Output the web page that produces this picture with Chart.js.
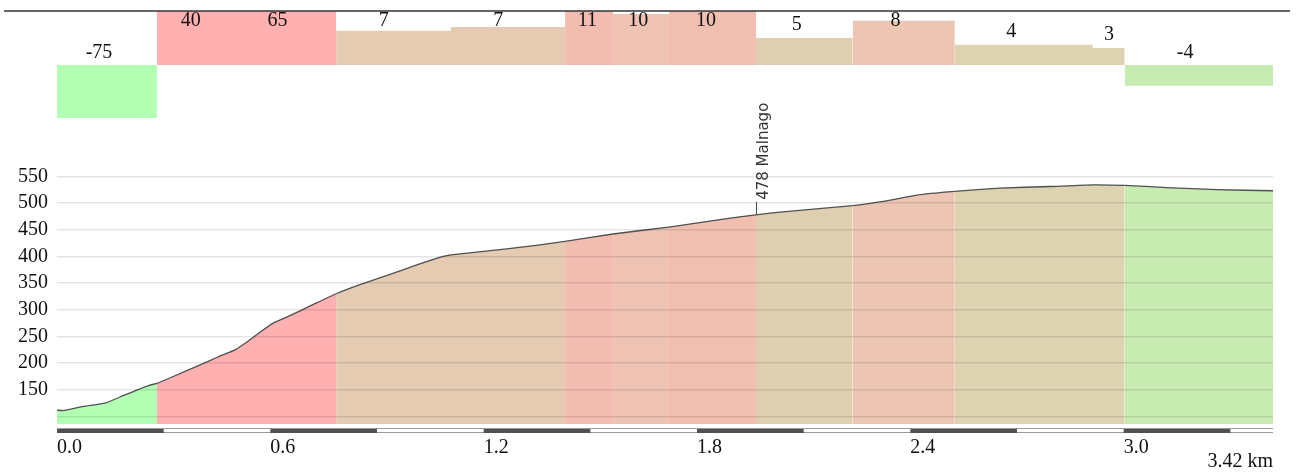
<!DOCTYPE html>
<html>
<head>
<meta charset="utf-8">
<title>Profilo altimetrico</title>
<script src="https://cdn.jsdelivr.net/npm/chart.js@4.4.1/dist/chart.umd.min.js"></script>
<style>
  body { margin: 0; background: #fff; }
  #wrap { position: relative; width: 1298px; height: 474px; }
  #wrap canvas { position: absolute; left: 0; top: 0; }
</style>
</head>
<body>
<div id="wrap">
  <canvas id="perfilChart" width="1298" height="474"></canvas>
  <canvas id="pendenzeChart" width="1298" height="130"></canvas>
</div>
<script>
// Profile: distance (km) and elevation (m)
const profileKm = [0, 0.018, 0.074, 0.135, 0.186, 0.257, 0.281, 0.327, 0.393, 0.454, 0.501, 0.533,
    0.571, 0.608, 0.655, 0.721, 0.785, 0.852, 0.918, 1.012, 1.086, 1.108, 1.265, 1.429, 1.564,
    1.721, 1.874, 1.966, 2.033, 2.238, 2.324, 2.418, 2.525, 2.652, 2.792, 2.913, 3.003, 3.121,
    3.261, 3.42];
const profileElev = [112, 111, 119, 125, 139, 158, 162, 175, 194, 212, 225, 239,
    258, 275, 289, 310, 330, 347, 362, 384, 400, 403, 414, 428, 442,
    455, 470, 478, 483, 495, 503, 515, 522, 528, 531, 534, 533, 529,
    525, 523];

// Gradient segments (start km, label, value)
const segmentStart = [0, 0.281, 0.501, 0.785, 1.108, 1.429, 1.564, 1.721, 1.966, 2.238, 2.525, 2.913, 3.003];
const segmentLabels = ['-75', '40', '65', '7', '7', '11', '10', '10', '5', '8', '4', '3', '-4'];
const segmentValues = [-75, 40, 65, 6.6, 7.3, 11, 9.8, 10.6, 5.2, 8.5, 3.9, 3.3, -4];

const totalKm = 3.42;
const kmTicks = [0, 0.6, 1.2, 1.8, 2.4, 3.0];
const elevTicks = [100, 150, 200, 250, 300, 350, 400, 450, 500, 550];

const townName = 'Malnago';
const townKm = 1.966;
const townElev = 478;

// Styles
const segmentColors = ['#b3ffb3', '#ffb0b0', '#ffb0b0', '#e5cbb2', '#e5cbb2', '#f2bdb0', '#eec3b3',
    '#f0bfb0', '#dfcfb1', '#ecc6b3', '#ddd3b1', '#ddd3b1', '#c8ebb2'];
const serifFont = { family: '"Liberation Serif", "Times New Roman", serif', size: 20 };
const scaleBarStep = 0.3;

function segmentIndex(km) {
    let idx = 0;
    segmentStart.forEach((s, i) => { if (km >= s) idx = i; });
    return idx;
}

// Scale bar under the profile
const scaleBarPlugin = {
    id: 'scaleBar',
    afterDraw: (chart) => {
        const { ctx, chartArea, scales: { x } } = chart;
        const y0 = chartArea.bottom + 4;
        ctx.save();
        ctx.fillStyle = '#9a9a9a';
        ctx.fillRect(chartArea.left, y0, chartArea.width, 1);
        ctx.fillRect(chartArea.left, y0 + 4, chartArea.width, 1);
        ctx.fillStyle = '#505050';
        for (let km = 0; km < totalKm; km += 2 * scaleBarStep) {
            const a = x.getPixelForValue(km);
            const b = x.getPixelForValue(Math.min(km + scaleBarStep, totalKm));
            ctx.fillRect(a, y0 + 1, b - a, 4);
        }
        ctx.restore();
    }
};

// Town label
const townPlugin = {
    id: 'town',
    afterDraw: (chart) => {
        const { ctx, scales: { x, y } } = chart;
        const px = Math.round(x.getPixelForValue(townKm)) + 0.5;
        const py = y.getPixelForValue(townElev);
        ctx.save();
        ctx.strokeStyle = '#444';
        ctx.lineWidth = 1;
        ctx.beginPath();
        ctx.moveTo(px, py);
        ctx.lineTo(px, py - 13);
        ctx.stroke();
        ctx.translate(px, py - 15);
        ctx.rotate(-Math.PI / 2);
        ctx.font = '15px "DejaVu Sans", sans-serif';
        ctx.fillStyle = '#333';
        ctx.textAlign = 'left';
        ctx.textBaseline = 'middle';
        ctx.fillText(townElev + ' ' + townName, 0, 8);
        ctx.restore();
    }
};

// Gradient labels above bars
const gradientLabelsPlugin = {
    id: 'gradientLabels',
    afterDatasetsDraw: (chart) => {
        const { ctx, chartArea, scales: { x, y } } = chart;
        ctx.save();
        ctx.font = '20px "Liberation Serif", "Times New Roman", serif';
        ctx.fillStyle = '#111';
        ctx.textAlign = 'center';
        segmentLabels.forEach((text, i) => {
            const x0 = x.getPixelForValue(segmentStart[i]);
            const x1 = x.getPixelForValue(i + 1 < segmentStart.length ? segmentStart[i + 1] : totalKm);
            const v = segmentValues[i];
            let yText;
            if (v >= 0) {
                yText = Math.max(y.getPixelForValue(Math.min(v, y.max)) - 8, chartArea.top + 15);
            } else {
                yText = y.getPixelForValue(0) - 7;
            }
            ctx.fillText(text, (x0 + x1) / 2 - 0.12 * (x1 - x0) + 4, yText);
        });
        // top rule
        ctx.strokeStyle = '#333';
        ctx.lineWidth = 1.5;
        ctx.beginPath();
        ctx.moveTo(4, chartArea.top);
        ctx.lineTo(1290, chartArea.top);
        ctx.stroke();
        ctx.restore();
    }
};

document.addEventListener('DOMContentLoaded', function() {
    // Elevation profile
    const perfilChart = new Chart(document.getElementById('perfilChart'), {
        type: 'line',
        data: {
            datasets: [{
                data: profileKm.map((km, i) => ({ x: km, y: profileElev[i] })),
                borderColor: '#505050',
                borderWidth: 1.3,
                pointRadius: 0,
                tension: 0.15,
                fill: 'start',
                backgroundColor: segmentColors[0],
                segment: {
                    backgroundColor: ctx => segmentColors[segmentIndex(
                        (profileKm[ctx.p0DataIndex] + profileKm[ctx.p1DataIndex]) / 2)]
                }
            }]
        },
        options: {
            responsive: false,
            animation: false,
            layout: { padding: { top: 155, right: 25, left: 0, bottom: 0 } },
            plugins: {
                legend: { display: false },
                tooltip: { enabled: false }
            },
            scales: {
                x: {
                    type: 'linear',
                    min: 0,
                    max: totalKm,
                    afterBuildTicks: (scale) => { scale.ticks = kmTicks.map(v => ({ value: v })); },
                    afterFit: (scale) => { scale.height = 50; },
                    grid: { display: false, drawTicks: false },
                    border: { display: false },
                    ticks: {
                        align: 'start',
                        padding: 12,
                        maxRotation: 0,
                        autoSkip: false,
                        font: serifFont,
                        color: '#111',
                        callback: v => Number(v).toFixed(1)
                    },
                    title: {
                        display: true,
                        text: totalKm + ' km',
                        align: 'end',
                        font: serifFont,
                        color: '#111',
                        padding: 0
                    }
                },
                y: {
                    min: 86,
                    max: 590,
                    afterBuildTicks: (scale) => { scale.ticks = elevTicks.map(v => ({ value: v })); },
                    afterFit: (scale) => { scale.width = 57; },
                    grid: { color: 'rgba(0,0,0,0.1)', lineWidth: 1.5, drawTicks: false, z: 1 },
                    border: { display: false },
                    ticks: {
                        padding: 9,
                        font: serifFont,
                        color: '#111',
                        callback: v => v >= 150 ? v : ''
                    }
                }
            }
        },
        plugins: [scaleBarPlugin, townPlugin]
    });

    // Gradient bars
    const pendenzeChart = new Chart(document.getElementById('pendenzeChart'), {
        type: 'line',
        data: {
            datasets: [{
                data: segmentStart.map((km, i) => ({ x: km, y: segmentValues[i] }))
                    .concat([{ x: totalKm, y: segmentValues[segmentValues.length - 1] }]),
                stepped: true,
                borderWidth: 0,
                borderColor: 'rgba(0,0,0,0)',
                pointRadius: 0,
                fill: 'origin',
                backgroundColor: segmentColors[0],
                segment: {
                    backgroundColor: ctx => segmentColors[ctx.p0DataIndex]
                }
            }]
        },
        options: {
            responsive: false,
            animation: false,
            layout: { padding: { top: 11, right: 25, left: 57, bottom: 12 } },
            plugins: {
                legend: { display: false },
                tooltip: { enabled: false }
            },
            scales: {
                x: { type: 'linear', min: 0, max: totalKm, display: false },
                y: { min: -10.2, max: 10.4, display: false }
            }
        },
        plugins: [gradientLabelsPlugin]
    });
});
</script>
</body>
</html>
